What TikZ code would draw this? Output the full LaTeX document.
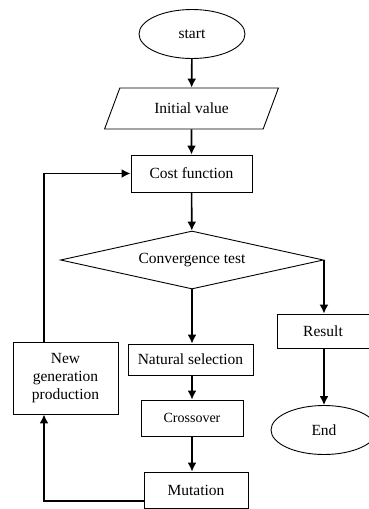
\documentclass[tikz,border=0pt]{standalone}
\usepackage{fontspec}
\setmainfont{Liberation Serif}
\usetikzlibrary{shapes.geometric,arrows.meta}

\begin{document}
\begin{tikzpicture}[x=1pt, y=-1pt,
    font=\fontsize{15.5}{18}\selectfont,
    box/.style={draw, line width=0.9pt, inner sep=0pt, align=center},
    flow/.style={->, line width=1.6pt},
    >={Latex[length=9pt, width=9pt]}]
    \useasboundingbox (0,0) rectangle (368,509);

    % Main column
    \node[box, ellipse, minimum width=106pt, minimum height=49pt] (start) at (192,34) {start};
    \node[box, trapezium, trapezium left angle=54, trapezium right angle=126, trapezium stretches=true,
          minimum width=175pt, minimum height=41pt] (init) at (191.5,108.5) {Initial value};
    \node[box, minimum width=121pt, minimum height=37pt] (cost) at (191.5,173.5) {Cost function};
    \node[box, diamond, aspect=4.5, minimum width=263pt, minimum height=58pt] (conv) at (192,260) {Convergence test};

    % Genetic operators
    \node[box, minimum width=125pt, minimum height=31pt] (natsel) at (190.5,359.5) {Natural selection};
    \node[box, minimum width=102pt, minimum height=36pt, font=\fontsize{14}{16}\selectfont] (cross) at (192,418) {Crossover};
    \node[box, minimum width=104pt, minimum height=36pt] (mut) at (196,490) {Mutation};
    \node[box, minimum width=105pt, minimum height=72pt] (newgen) at (65.5,378) {New\\generation\\production};

    % Exit branch
    \node[box, minimum width=92pt, minimum height=34pt] (result) at (323,331) {Result};
    \node[box, ellipse, minimum width=106pt, minimum height=49pt] (stop) at (324,430) {End};

    % Loop column
    \coordinate (loop) at (44,0);

    % Arrows
    \draw[flow] (start) -- (init);
    \draw[flow] (init) -- (cost);
    \draw[flow] (cost) -- (conv);
    \draw[flow] (conv.south) -- (conv.south |- natsel.north);
    \draw[flow] (natsel.south -| cross) -- (cross);
    \draw[flow] (cross.south) -- (cross.south |- mut.north);
    \draw[flow] (conv.east) -- (conv.east |- result.north);
    \draw[flow] (result.south -| stop) -- (stop);
    \draw[flow] ([yshift=-11pt]mut.west) -| (loop |- newgen.south);
    \draw[flow] (loop |- newgen.north) |- (cost.west);
\end{tikzpicture}
\end{document}
